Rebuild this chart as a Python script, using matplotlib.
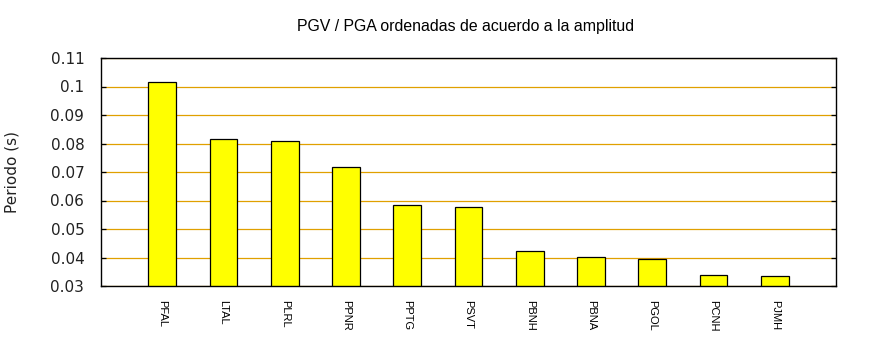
import numpy as np
import matplotlib.pyplot as plt

# Stations sorted by amplitude and their period values
stations = ["PFAL", "LTAL", "PLRL", "PPNR", "PPTG", "PSVT",
            "PBNH", "PBNA", "PGOL", "PCNH", "PJMH"]
periods = [0.1015, 0.0815, 0.0808, 0.0716, 0.0583, 0.0576,
           0.0422, 0.0401, 0.0394, 0.0338, 0.0334]
yticks = [0.03, 0.04, 0.05, 0.06, 0.07, 0.08, 0.09, 0.1, 0.11]
ytick_labels = ["0.03", "0.04", "0.05", "0.06", "0.07", "0.08", "0.09", "0.1", "0.11"]

fig = plt.figure(figsize=(8.7, 3.5), dpi=100)
ax = fig.add_axes([101 / 870, 1 - 286 / 350, 735 / 870, 228 / 350])

x = np.arange(len(stations))
ax.bar(x, periods, width=0.45, color="#ffff00", edgecolor="black",
       linewidth=0.9, zorder=3)

ax.set_xlim(-1, 11)
ax.set_ylim(0.03, 0.11)
ax.set_yticks(yticks)
ax.set_yticklabels(ytick_labels, fontsize=11, family="DejaVu Sans", color="#222222")
ax.set_xticks(x)
ax.set_xticklabels(stations, rotation=-90, fontsize=8,
                   family="Liberation Sans")
ax.tick_params(axis="x", length=0, pad=10)
ax.tick_params(axis="y", direction="in", length=3.5, width=0.9,
               right=True, pad=12)

ax.yaxis.grid(True, color="#e0a000", linewidth=0.9, zorder=0)
for s in ax.spines.values():
    s.set_linewidth(1.0)
    s.set_zorder(4)

fig.text(466 / 870, 1 - 27 / 350, "PGV / PGA ordenadas de acuerdo a la amplitud",
         ha="center", va="center", fontsize=11.4, family="Liberation Sans")
fig.text(12 / 870, 1 - 172 / 350, "Periodo (s)", rotation=90,
         ha="center", va="center", fontsize=11, family="DejaVu Sans",
         color="#222222")

fig.savefig("out.png", dpi=100)
